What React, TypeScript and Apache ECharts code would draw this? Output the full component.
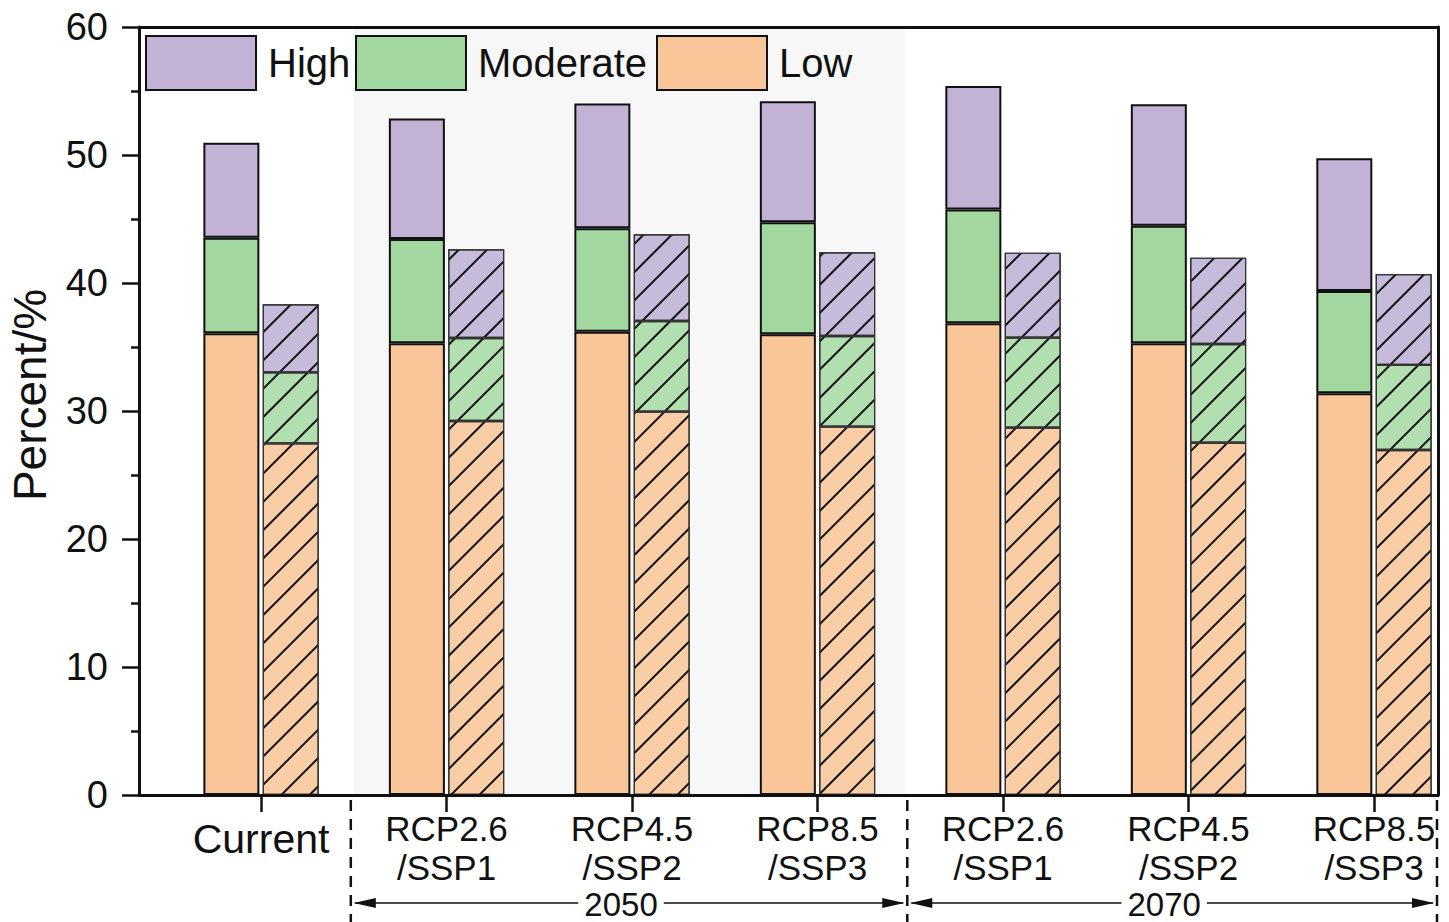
import React, { useEffect, useRef } from 'react';
import * as echarts from 'echarts';

const categories = ['Current', 'RCP2.6\n/SSP1', 'RCP4.5\n/SSP2', 'RCP8.5\n/SSP3', 'RCP2.6\n/SSP1', 'RCP4.5\n/SSP2', 'RCP8.5\n/SSP3'];
const periodLabels = ['2050', '2070'];
const levels = ['High', 'Moderate', 'Low'];

// solid bars: segment heights (%)
const solidLow = [36.07, 35.3, 36.2, 36.0, 36.85, 35.29, 31.38];
const solidModerate = [7.47, 8.14, 8.07, 8.74, 8.9, 9.19, 8.0];
const solidHigh = [7.42, 9.42, 9.76, 9.46, 9.65, 9.48, 10.37];

// hatched bars: segment heights (%)
const hatchLow = [27.47, 29.22, 29.95, 28.78, 28.7, 27.52, 26.95];
const hatchModerate = [5.55, 6.48, 7.08, 7.08, 7.03, 7.71, 6.65];
const hatchHigh = [5.32, 6.93, 6.77, 6.54, 6.64, 6.75, 7.1];

const yTicks = [0, 10, 20, 30, 40, 50, 60];

const COLORS = { High: '#C2B3D6', Moderate: '#A2D8A0', Low: '#F9C699' };
const HCOLORS = { High: '#C7BBDB', Moderate: '#B1DFB0', Low: '#F9CDA6' };
const FONT = 'Liberation Sans, Arial, Helvetica, sans-serif';

// value first, group index second (so stacking acts on the value dimension)
const toVX = (arr: number[]) => arr.map((v, i) => [v, i]);

export default function App() {
  const ref = useRef<HTMLDivElement>(null);
  useEffect(() => {
    document.body.style.margin = '0';
    if (!ref.current) return;
    const chart = echarts.init(ref.current, undefined, { renderer: 'svg' });
    const decal = {
      symbol: 'rect',
      symbolSize: 1,
      color: '#111',
      dashArrayX: [1, 0],
      dashArrayY: [1.4, 17.5],
      rotation: -Math.PI / 4,
    };
    const solidStyle = (name: string) => ({ color: (COLORS as any)[name], borderColor: '#111', borderWidth: 2 });
    const hatchStyle = (name: string) => ({ color: (HCOLORS as any)[name], borderColor: '#333', borderWidth: 1.2, decal });
    const solidData: Record<string, number[]> = { Low: solidLow, Moderate: solidModerate, High: solidHigh };
    const hatchData: Record<string, number[]> = { Low: hatchLow, Moderate: hatchModerate, High: hatchHigh };
    const order = ['Low', 'Moderate', 'High'];
    const series: any[] = [];
    order.forEach((n, k) => {
      series.push({
        type: 'bar', name: n, stack: 'solid', barWidth: 56, barGap: '6%',
        dimensions: ['value', 'group'], encode: { x: 'group', y: 'value' },
        data: toVX(solidData[n]), itemStyle: solidStyle(n),
        ...(k === 0 ? {
          markArea: {
            silent: true,
            itemStyle: { color: '#F7F7F7' },
            data: [[{ xAxis: 0.5, yAxis: 0 }, { xAxis: 3.47, yAxis: 59.9 }]],
          },
        } : {}),
      });
    });
    order.forEach((n) => {
      series.push({
        type: 'bar', name: n, stack: 'hatch', barWidth: 56, barGap: '6%',
        dimensions: ['value', 'group'], encode: { x: 'group', y: 'value' },
        data: toVX(hatchData[n]), itemStyle: hatchStyle(n),
      });
    });
    const idx = categories.map((_, i) => i);
    const legendBase = (name: string, left: number) => ({
      data: [name], left, top: 35, padding: 0, selectedMode: false,
      itemWidth: 110, itemHeight: 54, icon: 'rect',
      itemStyle: { borderColor: '#111', borderWidth: 2, decal: 'none' },
      textStyle: { fontSize: 40, color: '#111', fontFamily: FONT, padding: [0, 0, 0, 7] },
    });
    chart.setOption({
      animation: false,
      backgroundColor: '#fff',
      textStyle: { fontFamily: FONT },
      grid: { left: 139, right: 11, top: 27, bottom: 127, containLabel: false, outerBoundsMode: 'none' },
      legend: [legendBase('High', 145), legendBase('Moderate', 355), legendBase('Low', 656)],
      xAxis: [
        {
          type: 'value', min: -0.658, max: 6.345, z: 5,
          axisLine: { show: true, onZero: false, lineStyle: { color: '#111', width: 3 } },
          splitLine: { show: false },
          axisTick: { show: true, customValues: idx, length: 17, lineStyle: { color: '#111', width: 2.5 } },
          axisLabel: {
            show: true, customValues: idx, margin: 14, color: '#111', fontSize: 35, lineHeight: 39,
            fontFamily: FONT, verticalAlign: 'top',
            formatter: (v: number) => {
              const i = Math.round(v);
              return i === 0 ? '{c|' + categories[0] + '}' : categories[i];
            },
            rich: { c: { fontSize: 41, lineHeight: 60, color: '#111', fontFamily: FONT } },
          },
        },
        {
          type: 'value', position: 'top', min: -0.658, max: 6.345, z: 5,
          axisLine: { show: true, onZero: false, lineStyle: { color: '#111', width: 3 } },
          axisTick: { show: false }, axisLabel: { show: false }, splitLine: { show: false },
        },
      ],
      yAxis: [
        {
          type: 'value', min: 0, max: 60, interval: 10, z: 5,
          name: 'Percent/%', nameLocation: 'middle', nameGap: 86,
          nameTextStyle: { fontSize: 46, color: '#111', fontFamily: FONT, padding: [0, 0, 0, 32] },
          axisLine: { show: true, onZero: false, lineStyle: { color: '#111', width: 3 } },
          splitLine: { show: false },
          axisTick: { show: true, length: 17, lineStyle: { color: '#111', width: 2.5 } },
          minorTick: { show: true, splitNumber: 2, length: 8, lineStyle: { color: '#111', width: 2.5 } },
          axisLabel: {
            margin: 31, color: '#111', fontSize: 38, fontFamily: FONT,
            customValues: yTicks,
          },
        },
        {
          type: 'value', position: 'right', min: 0, max: 60, z: 5,
          axisLine: { show: true, onZero: false, lineStyle: { color: '#111', width: 3 } },
          axisTick: { show: false }, axisLabel: { show: false }, splitLine: { show: false },
        },
      ],
      series,
    });

    // annotations below the axis: period separators and arrows, positioned via the x scale
    const px = (v: number) => chart.convertToPixel({ xAxisIndex: 0 }, v) as number;
    const xA = px(0.5) - 3;
    const xB = px(3.5) - 3;
    const xC = px(6.345) - 1;
    const yTop = 800;
    const yBot = 922;
    const yArr = 903;
    const dash = (x: number) => ({
      type: 'line', shape: { x1: x, y1: yTop, x2: x, y2: yBot },
      style: { stroke: '#111', lineWidth: 2.5, lineDash: [11, 8] }, silent: true,
    });
    const arrow = (x1: number, x2: number, label: string) => {
      const a = 22, h = 5;
      return [
        { type: 'line', shape: { x1: x1 + 4, y1: yArr, x2: x2 - 4, y2: yArr }, style: { stroke: '#111', lineWidth: 1.5 }, silent: true },
        { type: 'polygon', shape: { points: [[x1 + 3, yArr], [x1 + 3 + a, yArr - h], [x1 + 3 + a, yArr + h]] }, style: { fill: '#111' }, silent: true },
        { type: 'polygon', shape: { points: [[x2 - 3, yArr], [x2 - 3 - a, yArr - h], [x2 - 3 - a, yArr + h]] }, style: { fill: '#111' }, silent: true },
        {
          type: 'text', x: (x1 + x2) / 2 - 8, y: 904, silent: true, z: 10,
          style: {
            text: label, fontSize: 33, fontFamily: FONT, fill: '#111', align: 'center', verticalAlign: 'middle',
            backgroundColor: '#fff', padding: [0, 6],
          },
        },
      ];
    };
    chart.setOption({
      graphic: [
        dash(xA), dash(xB), dash(xC),
        ...arrow(xA, xB, periodLabels[0]),
        ...arrow(xB, xC, periodLabels[1]),
      ],
    });

    return () => chart.dispose();
  }, []);
  return <div ref={ref} style={{ width: 1449, height: 922 }} />;
}
